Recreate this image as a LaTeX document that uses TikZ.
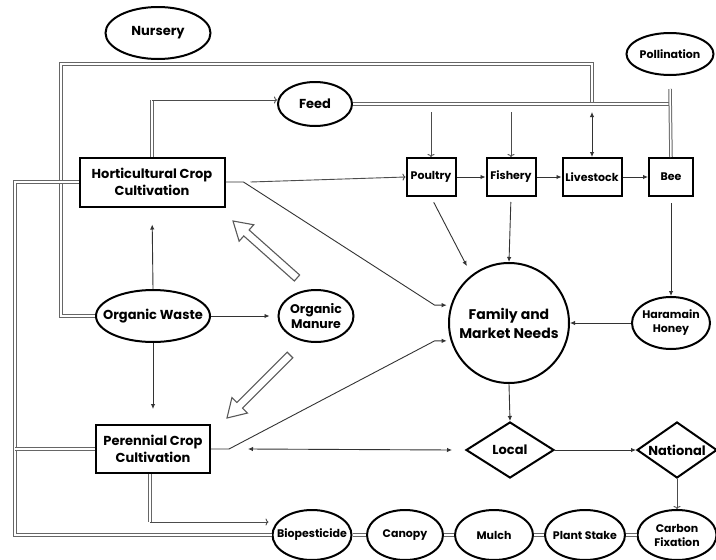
\documentclass[tikz,border=0pt]{standalone}
\usepackage{fontspec}
\setmainfont{Poppins}
\usetikzlibrary{shapes.geometric,arrows.meta,calc}

\tikzset{
  rbox/.style={draw, line width=2pt, inner sep=1pt, align=center},
  ell/.style={ellipse, draw, line width=2pt, inner sep=0pt, align=center},
  dia/.style={diamond, draw, line width=2pt, inner sep=0pt, align=center},
  arr/.style={draw=black!80, line width=0.9pt, -{Latex[length=5pt,width=4.5pt]}},
  oarr/.style={draw=black!70, line width=0.9pt, -{To[length=3pt,width=7pt]}},
  dbl/.style={draw=gray!80!black, double=white, double distance=1.5pt, line width=1pt},
  big/.style={draw=gray!70!black, fill=white, line width=1.1pt, line join=miter},
  sm/.style={font=\bfseries\fontsize{11}{14}\selectfont}
}

% zero-width text so the outline keeps its size
\newcommand\z[1]{\makebox[0pt]{#1}}

% hollow block arrow from #1 (tail) to #2 (tip)
\newcommand\hollowarrow[2]{%
  \coordinate (hh) at ($(#2)!18pt!(#1)$);
  \draw[big] ($(#1)!4pt!90:(#2)$) -- ($(hh)!4pt!-90:(#1)$) -- ($(hh)!11pt!-90:(#1)$)
    -- (#2) -- ($(hh)!11pt!90:(#1)$) -- ($(hh)!4pt!90:(#1)$) -- ($(#1)!4pt!-90:(#2)$) -- cycle;
}

\begin{document}
\begin{tikzpicture}[x=1pt, y=-1pt, font=\bfseries\fontsize{13}{17}\selectfont]
  \useasboundingbox[fill=white] (0,0) rectangle (716,560);

  % nodes
  \node[ell, minimum width=105pt, minimum height=52pt] (nurs) at (158,33) {\z{Nursery}};
  \node[ell, sm, minimum width=87pt, minimum height=42pt] (pol) at (670,54) {\z{Pollination}};
  \node[ell, minimum width=74pt, minimum height=44pt] (feed) at (315,104) {\z{Feed}};
  \node[rbox, minimum width=145pt, minimum height=49pt] (hort) at (152,182) {\z{Horticultural Crop}\\\z{Cultivation}};
  \node[rbox, sm, minimum width=49pt, minimum height=38pt] (poul) at (431,177) {\z{Poultry}};
  \node[rbox, sm, minimum width=49pt, minimum height=38pt] (fish) at (511,177) {\z{Fishery}};
  \node[rbox, sm, minimum width=59pt, minimum height=38pt] (live) at (592,177) {\z{Livestock}};
  \node[rbox, sm, minimum width=44pt, minimum height=38pt] (bee) at (671,177) {\z{Bee}};
  \node[ell, minimum width=114pt, minimum height=52pt] (ow) at (153,316) {\z{Organic Waste}};
  \node[ell, minimum width=75pt, minimum height=52pt, font=\bfseries\fontsize{12.5}{15}\selectfont] (om) at (316,316) {\z{Organic}\\\z{Manure}};
  \node[circle, draw, line width=2pt, minimum size=120pt, inner sep=0pt, align=center, font=\bfseries\fontsize{14}{19}\selectfont] (fam) at (509,323) {Family and\\Market Needs};
  \node[ell, sm, minimum width=78pt, minimum height=52pt] (hon) at (671,323) {\z{Haramain}\\\z{Honey}};
  \node[rbox, minimum width=114pt, minimum height=48pt] (per) at (153,449) {\z{Perennial Crop}\\\z{Cultivation}};
  \node[dia, minimum width=88pt, minimum height=56pt] (loc) at (510,450) {\z{Local}};
  \node[dia, minimum width=80pt, minimum height=56pt] (nat) at (677,450) {\z{National}};
  \node[ell, sm, minimum width=79pt, minimum height=50pt] (bio) at (312,535) {\z{Biopesticide}};
  \node[ell, sm, minimum width=76pt, minimum height=50pt] (can) at (405,535) {\z{Canopy}};
  \node[ell, sm, minimum width=78pt, minimum height=50pt] (mul) at (494,535) {\z{Mulch}};
  \node[ell, sm, minimum width=80pt, minimum height=50pt] (pst) at (585,535) {\z{Plant Stake}};
  \node[ell, sm, minimum width=79pt, minimum height=50pt] (cfx) at (677,535) {\z{Carbon}\\\z{Fixation}};

  \coordinate (hf) at (152,100);
  \coordinate (fa) at (61,64);
  \coordinate (lf) at (15,0);
  \coordinate (pb) at (150,522);

  % double lines
  \draw[dbl] (ow.west) -| (fa) -| (live.north |- feed.east);
  \draw[dbl] (feed.east) -- (feed.east -| bee.north);
  \draw[dbl] ([yshift=-13pt]pol.south) -- (bee.north);
  \draw[dbl] (hort.north) -- (hf);
  \draw[dbl] (hort.west) -| (lf |- bio.west) -- (bio.west);
  \draw[dbl] (per.west) -- (per.west -| lf);
  \draw[dbl] (per.south -| pb) -- (pb);
  \draw[dbl] (bio.east) -- (can.west);
  \draw[dbl] (can.east) -- (mul.west);
  \draw[dbl] (mul.east) -- (pst.west);
  \draw[dbl] (pst.east) -- (cfx.west);

  % arrows
  \draw[oarr] (hf) -- (hf -| feed.west);
  \draw[oarr] ([yshift=45pt]poul.north) -- (poul.north);
  \draw[oarr] ([yshift=45pt]fish.north) -- (fish.north);
  \draw[arr, {Latex[length=5pt,width=4.5pt]}-{Latex[length=5pt,width=4.5pt]}] ([yshift=45pt]live.north) -- (live.north);
  \draw[oarr] ([xshift=25pt]hort.east) -- (poul.west);
  \draw[arr] (poul.east) -- (fish.west);
  \draw[arr] (fish.east) -- (live.west);
  \draw[arr] (live.east) -- (bee.west);
  \draw[arr, shorten <=6pt, shorten >=10pt] (poul.south) -- (fam.128);
  \draw[arr, shorten <=5pt] (fish.south) -- (fam.north);
  \draw[arr, shorten <=6pt] (bee.south) -- (hon.north);
  \draw[arr] (hon.west) -- (fam.east);
  \draw[arr, shorten >=4pt] (hort.east) -- ++(18,0) -- ($(fam.163)+(-16,0)$) -- (fam.163);
  \draw[arr, shorten >=4pt] (per.east) -- ++(18,0) -- ($(fam.197)+(-16,0)$) -- (fam.197);
  \draw[arr] (fam.south) -- (loc.north);
  \draw[arr] (loc.east) -- (nat.west);
  \draw[oarr] (nat.south) -- (cfx.north);
  \draw[arr, {Latex[length=5pt,width=4.5pt]}-{Latex[length=5pt,width=4.5pt]}] ([xshift=37pt]per.east) -- ([xshift=-13pt]loc.west);
  \draw[arr, shorten >=17pt] (ow.north) -- (hort.south);
  \draw[arr, shorten >=15pt] (ow.south) -- (per.north);
  \draw[arr, shorten >=8pt] (ow.east) -- (om.west);
  \draw[oarr, shorten >=3pt] (pb) -- (pb -| bio.west);

  % hollow block arrows
  \coordinate (t1) at (297,278);
  \coordinate (p1) at (233,221);
  \coordinate (t2) at (290,355);
  \coordinate (p2) at (227,418);
  \hollowarrow{t1}{p1}
  \hollowarrow{t2}{p2}
\end{tikzpicture}
\end{document}
